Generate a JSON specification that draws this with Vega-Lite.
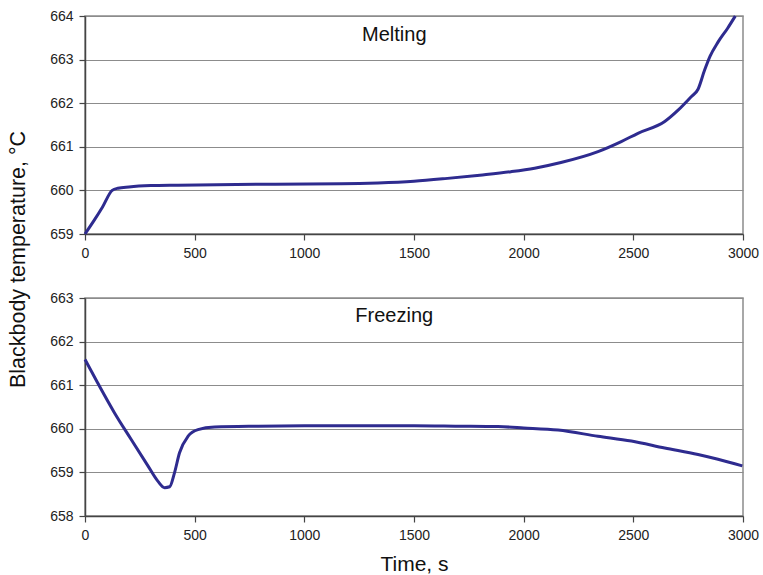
{
  "$schema": "https://vega.github.io/schema/vega-lite/v6.json",
  "padding": {"left": 8, "top": 8, "right": 10, "bottom": 5},
  "background": "white",
  "title": {"text": "Blackbody temperature, °C", "orient": "left", "anchor": "middle", "font": "Liberation Sans", "fontSize": 21.5, "fontWeight": "normal", "color": "#111", "offset": 19, "dx": 32},
  "spacing": 64,
  "bounds": "flush",
  "config": {
    "axis": {"labelFont": "Liberation Sans", "labelFontSize": 14, "labelColor": "#222", "domainColor": "#444", "domainWidth": 1.5, "tickColor": "#444", "tickWidth": 1.2, "tickSize": 6, "gridColor": "#8c8c8c", "gridWidth": 1, "titleFont": "Liberation Sans", "titleFontSize": 21, "titleFontWeight": "normal", "titleColor": "#111", "labelFlush": false, "labelOverlap": false, "labelPadding": 6, "format": "d"},
    "view": {"stroke": "#8c8c8c", "strokeWidth": 1.5}
  },
  "datasets": {
    "melting": [
      {"time": 0, "temp": 659.0},
      {"time": 40, "temp": 659.3},
      {"time": 80, "temp": 659.62},
      {"time": 124, "temp": 660.0},
      {"time": 150, "temp": 660.05},
      {"time": 200, "temp": 660.08},
      {"time": 300, "temp": 660.11},
      {"time": 424, "temp": 660.12},
      {"time": 800, "temp": 660.14},
      {"time": 1167, "temp": 660.15},
      {"time": 1336, "temp": 660.17},
      {"time": 1500, "temp": 660.21},
      {"time": 1641, "temp": 660.27},
      {"time": 1800, "temp": 660.35},
      {"time": 1942, "temp": 660.43},
      {"time": 2050, "temp": 660.51},
      {"time": 2170, "temp": 660.64},
      {"time": 2339, "temp": 660.89},
      {"time": 2445, "temp": 661.12},
      {"time": 2521, "temp": 661.31},
      {"time": 2643, "temp": 661.58},
      {"time": 2704, "temp": 661.84},
      {"time": 2764, "temp": 662.15},
      {"time": 2795, "temp": 662.32},
      {"time": 2825, "temp": 662.76},
      {"time": 2850, "temp": 663.08},
      {"time": 2886, "temp": 663.4},
      {"time": 2930, "temp": 663.72},
      {"time": 2965, "temp": 664.0}
    ],
    "freezing": [
      {"time": 0, "temp": 661.59},
      {"time": 58, "temp": 661.05},
      {"time": 134, "temp": 660.37},
      {"time": 210, "temp": 659.76},
      {"time": 287, "temp": 659.15},
      {"time": 332, "temp": 658.8},
      {"time": 363, "temp": 658.65},
      {"time": 386, "temp": 658.67},
      {"time": 408, "temp": 658.99},
      {"time": 431, "temp": 659.45},
      {"time": 470, "temp": 659.83},
      {"time": 515, "temp": 659.98},
      {"time": 591, "temp": 660.04},
      {"time": 790, "temp": 660.06},
      {"time": 1000, "temp": 660.07},
      {"time": 1500, "temp": 660.07},
      {"time": 1700, "temp": 660.06},
      {"time": 1883, "temp": 660.05},
      {"time": 2000, "temp": 660.02},
      {"time": 2157, "temp": 659.97},
      {"time": 2339, "temp": 659.83},
      {"time": 2491, "temp": 659.72},
      {"time": 2643, "temp": 659.56},
      {"time": 2795, "temp": 659.41},
      {"time": 2886, "temp": 659.3},
      {"time": 2997, "temp": 659.15}
    ]
  },
  "vconcat": [
    {
      "width": 658,
      "height": 218,
      "layer": [
        {
          "data": {"name": "melting"},
          "mark": {"type": "line", "color": "#2e2b8f", "strokeWidth": 3, "interpolate": "monotone"},
          "encoding": {
            "x": {"field": "time", "type": "quantitative", "scale": {"domain": [0, 3000], "nice": false}, "axis": {"values": [0, 500, 1000, 1500, 2000, 2500, 3000], "grid": false, "title": null}},
            "y": {"field": "temp", "type": "quantitative", "scale": {"domain": [659, 664], "nice": false, "zero": false}, "axis": {"values": [659, 660, 661, 662, 663, 664], "grid": true, "title": null}}
          }
        },
        {
          "data": {"values": [{"label": "Melting"}]},
          "mark": {"type": "text", "font": "Liberation Sans", "fontSize": 20, "color": "#111", "align": "center", "baseline": "alphabetic"},
          "encoding": {
            "text": {"field": "label"},
            "x": {"datum": 1410, "type": "quantitative"},
            "y": {"datum": 663.43, "type": "quantitative"}
          }
        }
      ]
    },
    {
      "width": 658,
      "height": 218,
      "layer": [
        {
          "data": {"name": "freezing"},
          "mark": {"type": "line", "color": "#2e2b8f", "strokeWidth": 3, "interpolate": "monotone"},
          "encoding": {
            "x": {"field": "time", "type": "quantitative", "scale": {"domain": [0, 3000], "nice": false}, "axis": {"values": [0, 500, 1000, 1500, 2000, 2500, 3000], "grid": false, "title": "Time, s", "titlePadding": 11}},
            "y": {"field": "temp", "type": "quantitative", "scale": {"domain": [658, 663], "nice": false, "zero": false}, "axis": {"values": [658, 659, 660, 661, 662, 663], "grid": true, "title": null}}
          }
        },
        {
          "data": {"values": [{"label": "Freezing"}]},
          "mark": {"type": "text", "font": "Liberation Sans", "fontSize": 20, "color": "#111", "align": "center", "baseline": "alphabetic"},
          "encoding": {
            "text": {"field": "label"},
            "x": {"datum": 1410, "type": "quantitative"},
            "y": {"datum": 662.46, "type": "quantitative"}
          }
        }
      ]
    }
  ]
}
